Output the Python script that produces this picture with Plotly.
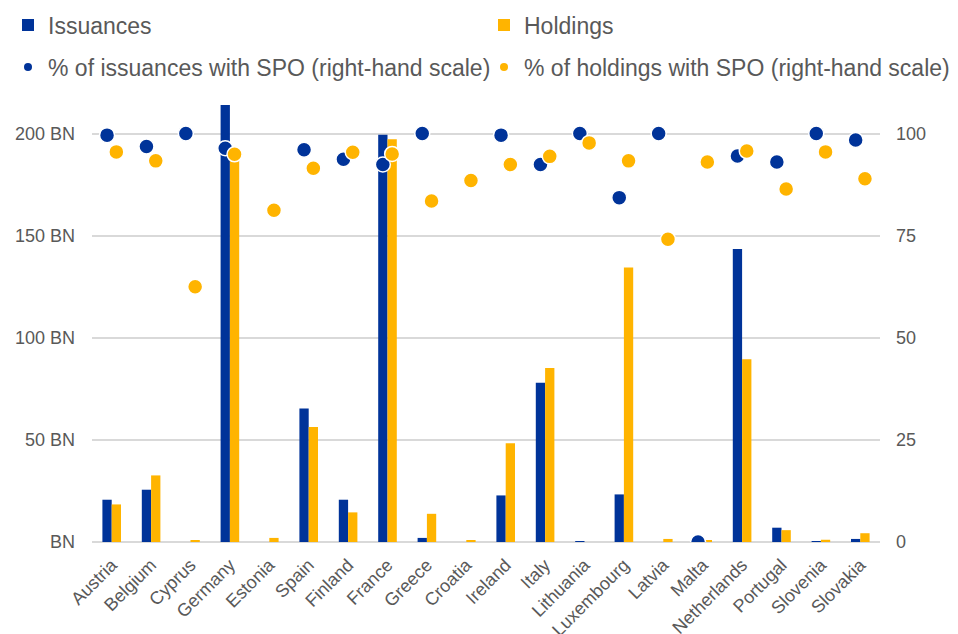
import plotly.graph_objects as go

countries = ["Austria", "Belgium", "Cyprus", "Germany", "Estonia", "Spain", "Finland",
             "France", "Greece", "Croatia", "Ireland", "Italy", "Lithuania", "Luxembourg",
             "Latvia", "Malta", "Netherlands", "Portugal", "Slovenia", "Slovakia"]

issuances = [20.7, 25.6, 0.0, 214.0, 0.0, 65.3, 20.7, 199.4, 2.0, 0.0,
             22.8, 78.0, 0.4, 23.3, 0.0, 0.0, 143.4, 7.0, 0.2, 1.5]
holdings = [18.4, 32.6, 0.9, 188.0, 2.0, 56.3, 14.5, 197.2, 13.8, 0.7,
            48.3, 85.2, 0.0, 134.4, 1.5, 0.5, 89.5, 5.8, 1.1, 4.3]

pct_issuances_spo = [99.6, 96.8, 100.0, 96.4, None, 96.0, 93.7, 92.4, 100.0, None,
                     99.6, 92.4, 100.0, 84.3, 100.0, 0.0, 94.5, 93.0, 100.0, 98.4]
pct_holdings_spo = [95.5, 93.3, 62.5, 94.9, 81.2, 91.5, 95.4, 95.0, 83.5, 88.5,
                    92.4, 94.4, 97.7, 93.3, 74.1, 93.0, 95.7, 86.4, 95.5, 88.9]

left_ticks = [0, 50, 100, 150, 200]
left_ticktext = ["BN", "50 BN", "100 BN", "150 BN", "200 BN"]
right_ticks = [0, 25, 50, 75, 100]

BLUE = "#003399"
YELLOW = "#FFB400"
GREY_TXT = "#595959"
GRID = "#d9d9d9"
FONT = "Liberation Sans, Arial, sans-serif"

fig = go.Figure()

fig.add_trace(go.Bar(x=countries, y=issuances, name="Issuances", marker_color=BLUE,
                     marker_line_width=0, offsetgroup="i", legend="legend"))
fig.add_trace(go.Bar(x=countries, y=holdings, name="Holdings", marker_color=YELLOW,
                     marker_line_width=0, offsetgroup="h", legend="legend2"))

fig.add_trace(go.Scatter(x=countries, y=pct_issuances_spo, yaxis="y2", mode="markers",
                         offsetgroup="i", showlegend=False,
                         marker=dict(color=BLUE, size=15, line=dict(color="white", width=1.5))))
fig.add_trace(go.Scatter(x=countries, y=pct_holdings_spo, yaxis="y2", mode="markers",
                         offsetgroup="h", showlegend=False,
                         marker=dict(color=YELLOW, size=15, line=dict(color="white", width=1.5))))

# legend entries for the dot series (small legend symbols as in the reference)
fig.add_trace(go.Scatter(x=[None], y=[None], yaxis="y2", mode="markers", offsetgroup="i",
                         name="% of issuances with SPO (right-hand scale)", legend="legend3",
                         marker=dict(color=BLUE, size=8)))
fig.add_trace(go.Scatter(x=[None], y=[None], yaxis="y2", mode="markers", offsetgroup="h",
                         name="% of holdings with SPO (right-hand scale)", legend="legend4",
                         marker=dict(color=YELLOW, size=8)))

ymax = 216.4


def leg(xpx, ypx):
    return dict(orientation="h", xref="container", yref="container",
                x=xpx / 958, y=1 - ypx / 634, xanchor="left", yanchor="middle",
                font=dict(size=23, color=GREY_TXT), bgcolor="rgba(0,0,0,0)",
                itemclick=False)


fig.update_layout(
    width=958, height=634,
    margin=dict(l=84, r=86, t=92, b=100, autoexpand=False),
    paper_bgcolor="white", plot_bgcolor="white",
    font=dict(family=FONT, color=GREY_TXT, size=18),
    barmode="group", bargap=0.528, bargroupgap=0,
    scattermode="group", scattergap=0.528,
    xaxis=dict(tickangle=-45, showgrid=False, showline=False, ticks="",
               ticklabelstandoff=8, tickfont=dict(size=18, color=GREY_TXT)),
    yaxis=dict(range=[0, ymax], tickvals=left_ticks, ticktext=left_ticktext,
               showgrid=True, gridcolor=GRID, gridwidth=2,
               zeroline=True, zerolinecolor=GRID, zerolinewidth=2,
               showline=False, ticks="", ticklabelstandoff=16,
               tickfont=dict(size=18, color=GREY_TXT)),
    yaxis2=dict(range=[0, ymax / 2], tickvals=right_ticks, overlaying="y", side="right",
                showgrid=False, zeroline=False, showline=False, ticks="",
                ticklabelstandoff=15, tickfont=dict(size=18, color=GREY_TXT)),
    legend=leg(-6, 17),
    legend2=leg(476, 17),
    legend3=leg(-6, 59),
    legend4=leg(476, 59),
    showlegend=True,
)

fig.write_html("out.html")
